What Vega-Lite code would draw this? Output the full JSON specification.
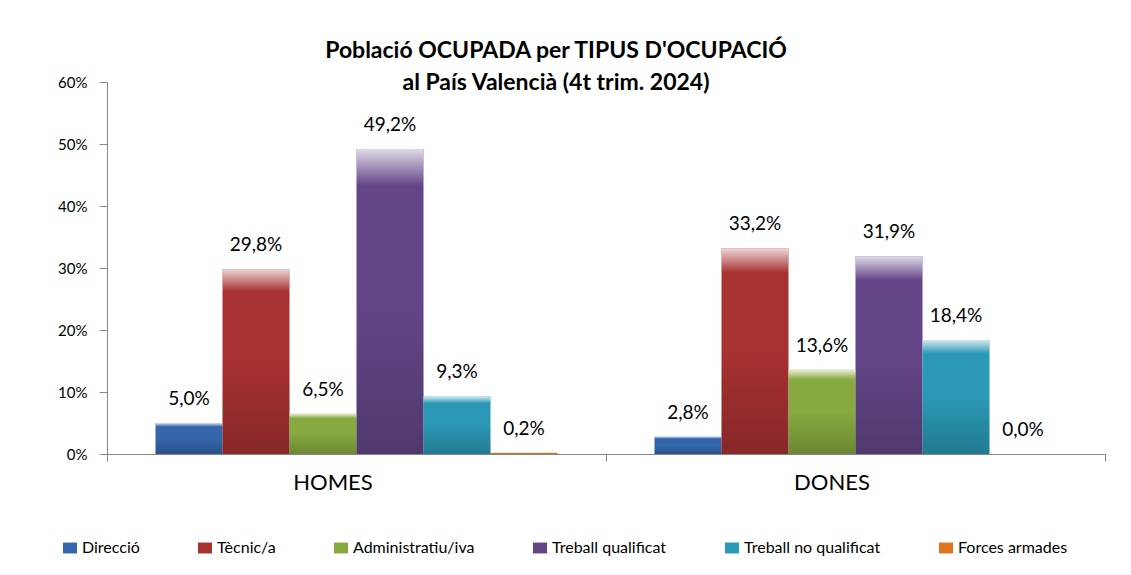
{
  "$schema": "https://vega.github.io/schema/vega-lite/v6.json",
  "width": 998,
  "height": 372,
  "autosize": {"type": "none"},
  "padding": {"left": 107, "top": 82, "right": 26, "bottom": 121},
  "background": "white",
  "config": {
    "locale": {"number": {"decimal": ",", "thousands": ".", "grouping": [3], "currency": ["", " €"]}},
    "view": {"stroke": null},
    "font": "Lato"
  },
  "title": {
    "text": ["Població OCUPADA per TIPUS D'OCUPACIÓ", "al País Valencià (4t trim. 2024)"],
    "font": "Lato",
    "fontSize": 23,
    "fontWeight": "bold",
    "color": "#000000",
    "lineHeight": 32,
    "anchor": "middle",
    "dx": -50,
    "offset": -20
  },
  "data": {
    "values": [
      {"sexe": "HOMES", "tipus": "Direcció", "val": 0.050},
      {"sexe": "HOMES", "tipus": "Tècnic/a", "val": 0.298},
      {"sexe": "HOMES", "tipus": "Administratiu/iva", "val": 0.065},
      {"sexe": "HOMES", "tipus": "Treball qualificat", "val": 0.492},
      {"sexe": "HOMES", "tipus": "Treball no qualificat", "val": 0.093},
      {"sexe": "HOMES", "tipus": "Forces armades", "val": 0.002},
      {"sexe": "DONES", "tipus": "Direcció", "val": 0.028},
      {"sexe": "DONES", "tipus": "Tècnic/a", "val": 0.332},
      {"sexe": "DONES", "tipus": "Administratiu/iva", "val": 0.136},
      {"sexe": "DONES", "tipus": "Treball qualificat", "val": 0.319},
      {"sexe": "DONES", "tipus": "Treball no qualificat", "val": 0.184},
      {"sexe": "DONES", "tipus": "Forces armades", "val": 0.000}
    ]
  },
  "encoding": {
    "x": {
      "field": "sexe", "type": "nominal", "sort": ["HOMES", "DONES"],
      "scale": {"paddingInner": 0, "paddingOuter": 0},
      "axis": {
        "title": null, "labelAngle": 0, "labelFontSize": 22, "labelFont": "Lato",
        "labelColor": "#000000", "domainColor": "#868686", "tickColor": "#868686",
        "tickBand": "extent", "tickSize": 7, "labelPadding": 11, "labelOffset": -24
      }
    },
    "xOffset": {
      "field": "tipus", "type": "nominal",
      "sort": ["Direcció", "Tècnic/a", "Administratiu/iva", "Treball qualificat", "Treball no qualificat", "Forces armades"],
      "scale": {"paddingInner": 0, "paddingOuter": 0.724}
    },
    "y": {
      "field": "val", "type": "quantitative",
      "scale": {"domain": [0, 0.6], "nice": false},
      "axis": {
        "title": null, "format": ".0%", "values": [0, 0.1, 0.2, 0.3, 0.4, 0.5, 0.6],
        "grid": false, "labelFontSize": 15, "labelFont": "Lato", "labelColor": "#000000",
        "domainColor": "#868686", "tickColor": "#868686", "tickSize": 8, "labelPadding": 12
      }
    }
  },
  "layer": [
    {
      "mark": {"type": "bar"},
      "encoding": {
        "color": {
          "field": "tipus", "type": "nominal",
          "sort": ["Direcció", "Tècnic/a", "Administratiu/iva", "Treball qualificat", "Treball no qualificat", "Forces armades"],
          "scale": {
            "domain": ["Direcció", "Tècnic/a", "Administratiu/iva", "Treball qualificat", "Treball no qualificat", "Forces armades"],
            "range": ["#3566ab", "#a83131", "#87a93f", "#644688", "#2b98b5", "#e0731f"]
          },
          "legend": {
            "title": null, "orient": "none", "direction": "horizontal", "columns": 6,
            "legendX": -45, "legendY": 458, "symbolType": "M-1,-0.78L1,-0.78L1,0.78L-1,0.78Z", "symbolSize": 196,
            "symbolStrokeWidth": 0, "labelFontSize": 16, "labelFont": "Lato", "labelColor": "#000000",
            "columnPadding": 57, "labelOffset": 4
          }
        }
      }
    },
    {
      "mark": {
        "type": "bar",
        "color": {
          "gradient": "linear", "x1": 0, "y1": 0, "x2": 0, "y2": 1,
          "stops": [
            {"offset": 0, "color": "rgba(255,255,255,0.8)"},
            {"offset": 0.12, "color": "rgba(255,255,255,0)"},
            {"offset": 0.5, "color": "rgba(0,0,0,0)"},
            {"offset": 1, "color": "rgba(0,0,0,0.2)"}
          ]
        }
      }
    },
    {
      "mark": {"type": "text", "baseline": "middle", "dy": -24, "fontSize": 19, "font": "Lato", "color": "#000000"},
      "encoding": {
        "text": {"field": "val", "type": "quantitative", "format": ".1%"}
      }
    }
  ]
}
